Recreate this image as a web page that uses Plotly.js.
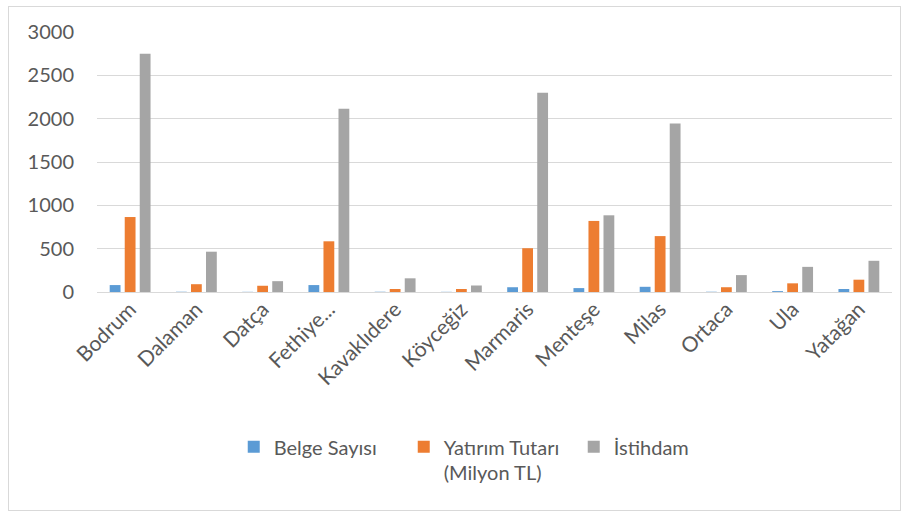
<!DOCTYPE html>
<html>
<head>
<meta charset="utf-8">
<script src="https://cdn.plot.ly/plotly-3.0.1.min.js"></script>
<style>
html,body{margin:0;padding:0;background:#fff;}
#frame{position:absolute;left:8px;top:6px;width:891px;height:503px;border:1px solid #d9d9d9;}
#chart{position:absolute;left:0;top:0;width:909px;height:517px;}
</style>
</head>
<body>
<div id="frame"></div>
<div id="chart"></div>
<script>
const categories = ["Bodrum","Dalaman","Datça","Fethiye...","Kavaklıdere","Köyceğiz","Marmaris","Menteşe","Milas","Ortaca","Ula","Yatağan"];
const belgeSayisi = [80, 3, 2, 80, 3, 2, 55, 45, 60, 3, 10, 35];
const yatirimTutari = [865, 90, 72, 585, 35, 35, 505, 820, 645, 55, 100, 142];
const istihdam = [2750, 465, 125, 2115, 158, 75, 2300, 885, 1945, 195, 290, 360];
const seriesNames = ["Belge Sayısı", "Yatırım Tutarı<br>(Milyon TL)", "İstihdam"];
const yTicks = [0, 500, 1000, 1500, 2000, 2500, 3000];

const font = {family: "Lato, 'Open Sans', sans-serif", size: 20, color: "#595959"};
const xfont = {family: "Lato, 'Open Sans', sans-serif", size: 21, color: "#595959"};
const colors = ["#5b9bd5", "#ed7d31", "#a5a5a5"];
const data = [belgeSayisi, yatirimTutari, istihdam].map((v, i) => ({
  type: "bar", x: categories, y: v, name: seriesNames[i],
  marker: {color: colors[i]}
}));

Plotly.newPlot("chart", data, {
  width: 909, height: 517,
  margin: {l: 97, r: 17, t: 32, b: 225},
  paper_bgcolor: "rgba(0,0,0,0)", plot_bgcolor: "rgba(0,0,0,0)",
  font: font,
  barmode: "group", bargap: 0.32, bargroupgap: 0.28,
  xaxis: {tickangle: -45, showgrid: false, zeroline: false, showline: false, ticks: "", tickfont: xfont},
  yaxis: {range: [0, 3000], tickvals: yTicks, ticktext: yTicks.map(String), gridcolor: "#d9d9d9", gridwidth: 1,
          zeroline: true, zerolinecolor: "#d9d9d9", zerolinewidth: 1, showline: false, ticks: "", tickfont: font, ticklabelstandoff: 22},
  legend: {orientation: "h", x: 0.172, xanchor: "left", y: -0.52, yanchor: "top", font: font, valign: "top",
           itemwidth: 30, entrywidth: 125, itemsizing: "constant", traceorder: "normal"},
  showlegend: true
}, {displayModeBar: false, staticPlot: true});
</script>
</body>
</html>
